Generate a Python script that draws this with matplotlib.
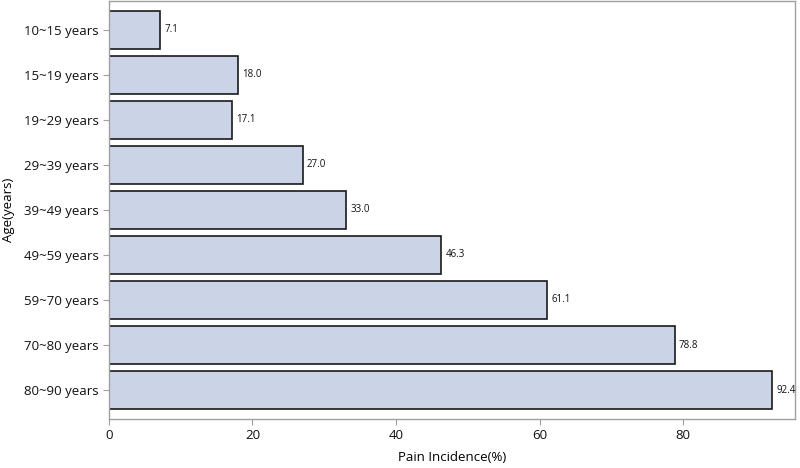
import matplotlib
matplotlib.use("Agg")
from matplotlib import pyplot as plt

# Data
ages = ["10~15 years", "15~19 years", "19~29 years", "29~39 years", "39~49 years",
        "49~59 years", "59~70 years", "70~80 years", "80~90 years"]
incidence = [7.1, 18.0, 17.1, 27.0, 33.0, 46.3, 61.1, 78.8, 92.4]
xticks = [0, 20, 40, 60, 80]

plt.rcParams['font.family'] = ['Open Sans', 'DejaVu Sans']

fig = plt.figure(figsize=(8, 4.68), dpi=100)
ax = fig.add_axes([0.136, 0.105, 0.858, 0.893])

pos = list(range(len(ages)))
ax.barh(pos, incidence, height=0.84, color='#cbd3e6', edgecolor='#1a1a1a', linewidth=1.2)
for p, v in zip(pos, incidence):
    ax.text(v + 0.6, p, f"{v:.1f}", va='center', ha='left', fontsize=7, color='#111111')

ax.set_yticks(pos)
ax.set_yticklabels(ages, fontsize=9.5)
ax.set_ylim(len(ages) - 0.36, -0.64)
ax.set_xlim(0, 95.6)
ax.set_xticks(xticks)
ax.set_xticklabels([str(t) for t in xticks], fontsize=9.5)
ax.set_xlabel("Pain Incidence(%)", fontsize=9.5, labelpad=6)
ax.set_ylabel("Age(years)", fontsize=9.5, labelpad=6)

for s in ax.spines.values():
    s.set_color('#a0a0a0')
    s.set_linewidth(1.0)
ax.tick_params(axis='both', colors='#a0a0a0', labelcolor='#111111', length=4, width=0.8)

fig.savefig("out.png", dpi=100)
